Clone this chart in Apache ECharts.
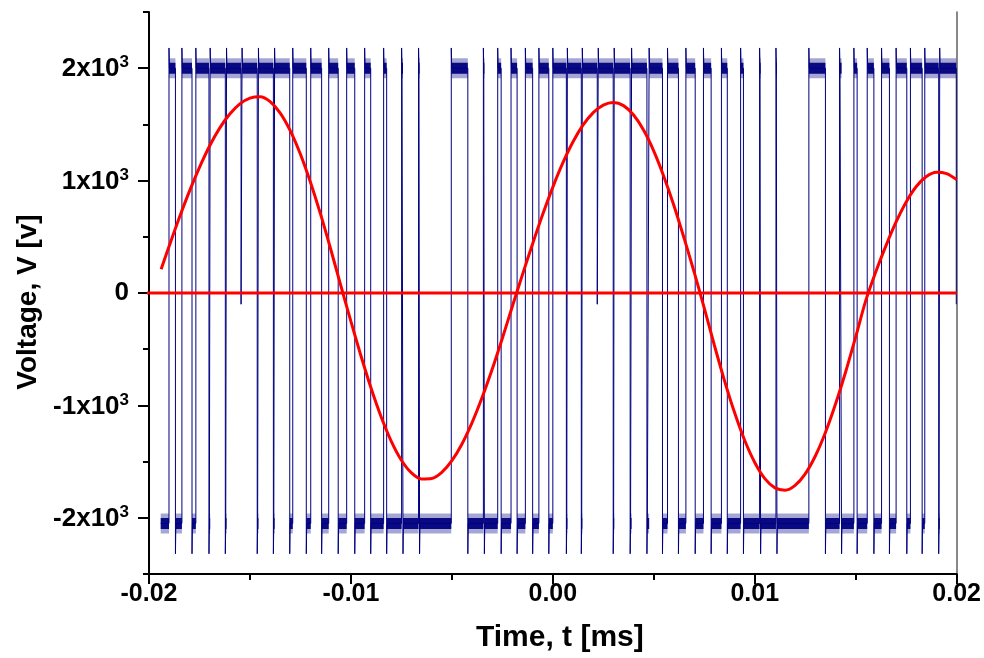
<!DOCTYPE html>
<html>
<head>
<meta charset="utf-8">
<script src="https://cdn.jsdelivr.net/npm/echarts@6/dist/echarts.min.js"></script>
<style>
  html, body { margin: 0; padding: 0; background: #fff; }
  #chart { width: 984px; height: 658px; }
</style>
</head>
<body>
<div id="chart"></div>
<script>
// ---------- data ----------
// Reference sine (red), time in ms, voltage in V
const sineT = [-0.0194, -0.0190, -0.0185, -0.0180, -0.0175, -0.0170, -0.0165, -0.0160, -0.0155, -0.0150,
  -0.0145, -0.0140, -0.0135, -0.0130, -0.0125, -0.0120, -0.0115, -0.0110, -0.0105, -0.0100,
  -0.0095, -0.0090, -0.0085, -0.0080, -0.0075, -0.0070, -0.0065, -0.0060, -0.0055, -0.0050,
  -0.0045, -0.0040, -0.0035, -0.0030, -0.0025, -0.0020, -0.0015, -0.0010, -0.0005, 0.0000,
  0.0005, 0.0010, 0.0015, 0.0020, 0.0025, 0.0030, 0.0035, 0.0040, 0.0045, 0.0050,
  0.0055, 0.0060, 0.0065, 0.0070, 0.0075, 0.0080, 0.0085, 0.0090, 0.0095, 0.0100,
  0.0105, 0.0110, 0.0115, 0.0120, 0.0125, 0.0130, 0.0135, 0.0140, 0.0145, 0.0150,
  0.0155, 0.0160, 0.0165, 0.0170, 0.0175, 0.0180, 0.0185, 0.0190, 0.0195, 0.0200];
const sineV = [211, 418, 669, 904, 1118, 1308, 1467, 1592, 1683, 1734,
  1746, 1703, 1601, 1443, 1235, 984, 699, 389, 65, -253,
  -561, -848, -1104, -1320, -1488, -1601, -1655, -1651, -1596, -1492,
  -1343, -1153, -928, -676, -402, -116, 166, 439, 700, 942,
  1159, 1345, 1495, 1605, 1672, 1695, 1667, 1583, 1447, 1262,
  1035, 777, 488, 185, -134, -465, -779, -1064, -1310, -1508,
  -1652, -1734, -1754, -1711, -1609, -1450, -1241, -988, -703, -390,
  -66, 192, 422, 632, 810, 947, 1036, 1074, 1062, 1009];

// Zero reference line (red)
const zeroT = [-0.0207, 0.020];
const zeroV = [0, 0];

// PWM output (blue): switching instants (ms) and level after each switch
const H = 2000, L = -2050, P = -100;
const pwmT = [-0.01942, -0.01901, -0.01869, -0.01837, -0.01787, -0.01768, -0.01703, -0.01697, -0.01622, -0.01616,
  -0.01544, -0.01539, -0.01464, -0.01458, -0.01384, -0.01378, -0.01303, -0.01288, -0.01221, -0.01199,
  -0.01145, -0.01110, -0.01063, -0.01021, -0.00981, -0.00932, -0.00902, -0.00838, -0.00823, -0.00749,
  -0.00742, -0.00665, -0.00660, -0.00503, -0.00421, -0.00344, -0.00339, -0.00273, -0.00256, -0.00207,
  -0.00177, -0.00136, -0.00100, -0.00069, -0.00020, 0.00000, 0.00067, 0.00072, 0.00141, 0.00146,
  0.00220, 0.00225, 0.00299, 0.00304, 0.00383, 0.00390, 0.00466, 0.00477, 0.00543, 0.00568,
  0.00622, 0.00659, 0.00705, 0.00746, 0.00784, 0.00835, 0.00864, 0.00930, 0.00944, 0.01024,
  0.01029, 0.01105, 0.01110, 0.01268, 0.01350, 0.01420, 0.01430, 0.01491, 0.01507, 0.01557,
  0.01590, 0.01628, 0.01667, 0.01700, 0.01753, 0.01771, 0.01829, 0.01842, 0.01911, 0.01916,
  0.01998];
const pwmV = [L, H, L, H, L, H, L, H, L, H,
  P, H, L, H, L, H, L, H, L, H,
  L, H, L, H, L, H, L, H, L, H,
  L, H, L, H, L, H, L, H, L, H,
  L, H, L, H, L, H, L, H, L, H,
  P, H, L, H, L, H, L, H, L, H,
  L, H, L, H, L, H, L, H, L, H,
  L, H, L, H, L, H, L, H, L, H,
  L, H, L, H, L, H, L, H, L, H,
  P];
const pwmEnd = 0.0200;
const overshootHigh = 2180, overshootLow = -2320;

// Axis tick values
const yMajor = [-2000, -1000, 0, 1000, 2000];
const yMinor = [-2500, -1500, -500, 500, 1500, 2500];

// ---------- build series data ----------
const sineData = sineT.map((t, i) => [t, sineV[i]]);
const zeroData = zeroT.map((t, i) => [t, zeroV[i]]);

const stepData = [];
const bandData = [];
const dt = 0.00002;
let prev = pwmV[0];
stepData.push([pwmT[0], prev]);
for (let i = 1; i < pwmT.length; i++) {
  const t = pwmT[i], v = pwmV[i];
  stepData.push([t, prev]);
  if (v === H && v > prev) { stepData.push([t, overshootHigh]); stepData.push([t + dt, v]); }
  else if (v === L && v < prev) { stepData.push([t, overshootLow]); stepData.push([t + dt, v]); }
  else stepData.push([t, v]);
  prev = v;
}
stepData.push([pwmEnd, prev]);

for (let i = 0; i < pwmT.length; i++) {
  const v = pwmV[i];
  if (v === P) continue;
  const t0 = pwmT[i];
  const t1 = i + 1 < pwmT.length ? pwmT[i + 1] : pwmEnd;
  bandData.push([t0, v], [t1, v], [null, null]);
}

// ---------- chart ----------
const FONT = 'Liberation Sans, Arial, sans-serif';
const chart = echarts.init(document.getElementById('chart'), null, { renderer: 'canvas' });
const tickStyle = { color: '#000', width: 2 };

chart.setOption({
  animation: false,
  backgroundColor: '#fff',
  grid: { left: 149, right: 26, top: 12, bottom: 83, containLabel: false },
  xAxis: {
    type: 'value', min: -0.02, max: 0.02, interval: 0.01,
    axisLine: { show: true, onZero: false, lineStyle: { color: '#000', width: 2 } },
    axisTick: { show: true, inside: false, length: 10, lineStyle: tickStyle },
    minorTick: { show: true, splitNumber: 2, length: 6, lineStyle: tickStyle },
    splitLine: { show: false },
    axisLabel: {
      formatter: v => v.toFixed(2), color: '#000', fontSize: 25, fontWeight: 'bold',
      fontFamily: FONT, margin: 8
    },
    name: 'Time, t [ms]', nameLocation: 'middle', nameGap: 49,
    nameTextStyle: { color: '#000', fontSize: 30, fontWeight: 'bold', fontFamily: FONT, padding: [0, 0, 0, 14] }
  },
  yAxis: [{
    type: 'value', min: -2500, max: 2500,
    axisLine: { show: true, onZero: false, lineStyle: { color: '#000', width: 2 } },
    axisTick: { show: true, inside: false, length: 11, lineStyle: tickStyle, customValues: yMajor },
    splitLine: { show: false },
    axisLabel: {
      customValues: yMajor, margin: 20,
      formatter: v => v === 0 ? '{b|0}' : '{b|' + (v / 1000) + 'x10}{s|3}',
      rich: {
        b: { fontSize: 26, fontWeight: 'bold', fontFamily: FONT, color: '#000', verticalAlign: 'bottom' },
        s: { fontSize: 17, fontWeight: 'bold', fontFamily: FONT, color: '#000', verticalAlign: 'bottom', padding: [0, 0, 11, 0] }
      }
    },
    name: 'Voltage, V [v]', nameLocation: 'middle', nameGap: 106, nameRotate: 90,
    nameTextStyle: { color: '#000', fontSize: 28, fontWeight: 'bold', fontFamily: FONT, padding: [0, 18, 0, 0] }
  }, {
    type: 'value', min: -2500, max: 2500, position: 'left', gridIndex: 0,
    axisLine: { show: false, onZero: false },
    axisTick: { show: true, inside: false, length: 6, lineStyle: tickStyle, customValues: yMinor },
    axisLabel: { show: false },
    splitLine: { show: false }
  }, {
    type: 'value', min: -2500, max: 2500, position: 'right', gridIndex: 0,
    axisLine: { show: true, onZero: false, lineStyle: { color: '#606060', width: 1.5 } },
    axisTick: { show: false }, axisLabel: { show: false }, splitLine: { show: false }
  }],
  series: [
    {
      name: 'pwm', type: 'line', data: stepData, yAxisIndex: 0,
      symbol: 'none', lineStyle: { color: '#000080', width: 1 }, z: 2
    },
    {
      name: 'bandOuter', type: 'line', data: bandData, yAxisIndex: 0, connectNulls: false,
      symbol: 'none', lineStyle: { color: '#000080', width: 20, cap: 'butt', opacity: 0.35 }, z: 2
    },
    {
      name: 'bandCore', type: 'line', data: bandData, yAxisIndex: 0, connectNulls: false,
      symbol: 'none', lineStyle: { color: '#000080', width: 11, cap: 'butt', opacity: 0.95 }, z: 2
    },
    {
      name: 'zero', type: 'line', data: zeroData, yAxisIndex: 0, clip: false,
      symbol: 'none', lineStyle: { color: '#ff0000', width: 3 }, z: 3
    },
    {
      name: 'sine', type: 'line', data: sineData, yAxisIndex: 0, smooth: 0.3,
      symbol: 'none', lineStyle: { color: '#ff0000', width: 3 }, z: 3
    }
  ]
});
</script>
</body>
</html>
